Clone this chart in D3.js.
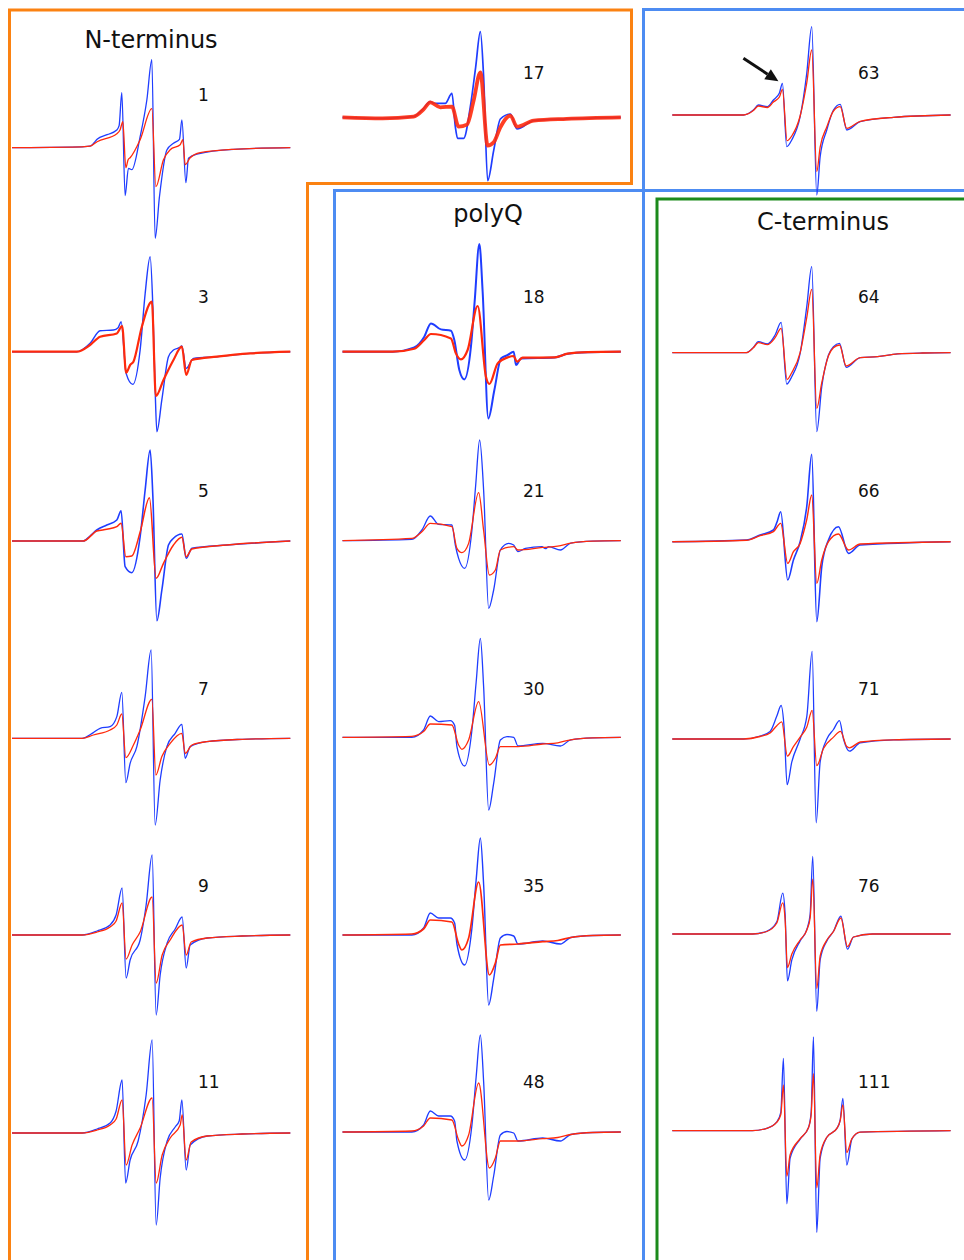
<!DOCTYPE html>
<html>
<head>
<meta charset="utf-8">
<script src="https://cdn.jsdelivr.net/npm/d3@7"></script>
<style>
  html, body { margin: 0; padding: 0; background: #fff; }
  svg { display: block; }
  text { font-family: "DejaVu Sans", "Open Sans", sans-serif; fill: #111; }
</style>
</head>
<body>
<script>
// ---------------- DATA (field offset, amplitude a.u.) ----------------
const groupTitles = ["N-terminus", "polyQ", "C-terminus"];
const residues = ["1","3","5","7","9","11","17","18","21","30","35","48","63","64","66","71","76","111"];

// N-terminus
const b1 = [[0,0],[60,0.5],[78,1.5],[82,5],[85,8.4],[95,13],[104.7,17.7],[107,22],[109.7,55],[113,-48],[116.3,-20.6],[119.7,-22],[128,11],[134.7,47.7],[139.7,88],[143,-90.6],[147.3,-49],[154.7,-2.3],[161.3,4.4],[167.3,8.4],[169.7,27.7],[173.7,-35],[176.3,-10.6],[184.7,-6.3],[221.3,-1.6],[278,0]];
const r1 = [[0,0],[60,0.5],[78,1.5],[85,6],[104.7,14],[108,18],[110.7,26],[113.7,-20],[116,-12],[118,-10],[128,8],[139.7,39],[143.7,-39],[151.3,-12],[158,-2],[168,3],[170.7,8],[173,-17],[178,-10],[188,-5],[221.3,-1.6],[278,0]];
const b3 = [[0,0],[64.7,0],[78,8.4],[88,21],[101.3,21.7],[106,24],[109,30],[114,-21.7],[120.7,-32.7],[128,1.7],[133,58],[138,95],[140.7,45],[143,-38],[144.7,-80],[149.7,-48],[156.3,-5],[161.3,1.7],[167,4],[169.7,5.7],[174,-16.7],[181.3,-6.7],[204.7,-5],[238,-1.7],[278,0]];
const r3 = [[0,0],[64.7,0],[78,6.7],[88,15],[104.7,18.3],[110,25.7],[114,-21],[118,-13.3],[121.3,-10],[129.7,25],[139.7,50],[143.7,-44.3],[151.3,-28.3],[161.3,-8.3],[169.7,5],[174,-23.3],[179.7,-8.3],[204.7,-5],[238,-1.7],[278,0]];
const b5 = [[0,0],[71.3,0],[78,5],[84.7,11],[94.7,16],[104.7,21],[109,30.3],[113,-25.7],[119.7,-31.7],[128,4.3],[133,51],[138,91],[140.7,45],[144.7,-79.7],[149.7,-49],[156.3,-4],[161.3,2.7],[169.7,7],[174,-17.3],[179.7,-7.3],[214.7,-4],[278,0]];
const r5 = [[0,0],[71.3,0],[84.7,10],[94.7,11.7],[104.7,14.3],[109,17.7],[113.7,-15.7],[119.7,-15],[128,9],[137.3,43.3],[144,-37.3],[151.3,-22.3],[161.3,-4],[169.7,3.7],[174,-15.7],[179.7,-8],[214.7,-4],[278,0]];
const b7 = [[0,0],[70,0],[81.3,5.7],[88,10],[98,11.7],[104.7,21.7],[109.7,46],[113.7,-44.3],[118,-25],[124.7,-8.3],[133,41.7],[139,88.3],[143,-86.7],[148,-41.7],[154.7,-8.3],[163,5],[169.7,14],[173,-20],[178,-8.3],[194.7,-3.3],[230,-1],[278,0]];
const r7 = [[0,0],[70,0],[81.3,3.3],[98,8.3],[104.7,13.3],[109.7,24.3],[113.7,-19.3],[121.3,-6.7],[128,8.3],[139.7,39],[143.7,-36.7],[149.7,-18.3],[158,-5],[169.7,5],[173,-15],[179.7,-6.7],[194.7,-3.3],[230,-1],[278,0]];
const b9 = [[0,0],[70,0],[85,4],[98,10],[104,20],[110,47],[114,-43],[118,-25],[128,-5],[134,30],[140,80],[144,-80],[148,-40],[155,-8],[163,6],[170,18],[174,-33],[178,-10],[195,-3],[230,-1],[278,0]];
const r9 = [[0,0],[70,0],[85,3],[98,8],[104,14],[110,32],[114,-24],[120,-10],[128,3],[140,38],[144,-48],[150,-20],[158,-5],[170,10],[174,-20],[179,-7],[195,-3],[230,-1],[278,0]];
const b11 = [[0,0],[70,0],[85,4],[98,10],[104,22],[110,53],[113.5,-50],[118,-27],[126,-8],[134,38],[140,93],[144,-92],[148,-45],[155,-8],[163,6],[167,12],[169.7,33],[174,-37],[178,-12],[195,-3],[230,-1],[278,0]];
const r11 = [[0,0],[70,0],[85,3],[98,8],[104,14],[110,33],[114,-32],[120,-12],[128,5],[140,35],[144,-50],[150,-22],[158,-5],[168,8],[170,18],[174,-27],[179,-9],[195,-3],[230,-1],[278,0]];

// polyQ
const b17 = [[0,0],[40,-1],[71,0.7],[81,9],[87.7,15.7],[91,14],[102.7,14],[109.3,24],[112.7,-9.3],[115,-21],[121,-21],[127.7,10.7],[133,50],[137.7,85.7],[141,40],[145,-63.3],[151,-33.3],[157.7,-1.7],[167.7,3.3],[174.3,-11.7],[191,-3.3],[224,-1.5],[278,0]];
const r17 = [[0,0],[40,-1],[71,0.7],[81,8],[87.7,15],[97.7,10],[109.3,10.7],[116,-9.3],[124.3,-7.3],[131,16.7],[137.7,45],[145,-28.3],[151,-25],[157.7,-10],[167.7,1.7],[174.3,-9.3],[191,-3.3],[224,-1.5],[278,0]];
const b18 = [[0,0],[50,0],[71.7,4.3],[81.7,15],[88.3,28.3],[98.3,22.3],[108.3,21],[111.7,11.7],[116.7,-18.3],[121.7,-27.7],[128.3,5],[132,50],[136.7,107.7],[140,60],[145.7,-66.7],[151.7,-38.3],[158.3,-6.7],[165,-3.3],[171,0],[173.3,-13.3],[178.3,-6.7],[212,-5.7],[225,-2],[245,-0.5],[278,0]];
const r18 = [[0,0],[50,0],[71.7,3],[81.7,11.7],[88.3,17.7],[108.3,13.3],[113.3,-1.7],[118.3,-7.7],[125,1.7],[135,45.7],[143.3,-25],[146.7,-32.3],[155,-11.7],[165,-5.7],[171,-4.3],[174.3,-10],[180,-6],[212,-5.7],[225,-2],[245,-0.5],[278,0]];
const b21 = [[0,0],[69.3,1.3],[79.3,10.7],[87.7,24.7],[96,16.3],[109.3,15.7],[112.7,-4.3],[116,-17.7],[122,-27.7],[129.3,10.7],[133,55],[137,100.7],[141,50],[146,-67.7],[151,-49.3],[157.7,-9.3],[166,-2.7],[171,-4.3],[175.3,-11],[182.7,-7.7],[199.3,-6],[202.7,-8],[206,-6],[217.7,-9.3],[228,-2.5],[250,-0.5],[278,0]];
const r21 = [[0,0],[69.3,2.3],[79.3,9],[87.7,17.3],[109.3,14],[114.3,-7.7],[119.3,-12],[126,-2.7],[136,48],[141,10],[146.7,-34.3],[152.7,-29.3],[157.7,-9.3],[171,-6],[175.3,-9.3],[200,-6.7],[215,-5.5],[228,-2.5],[250,-0.5],[278,0]];
const b30 = [[0,0],[69.3,0],[81,7.3],[87.7,21.3],[96,15.7],[107.7,16.7],[112,12],[114.3,-9.3],[122,-28.7],[129.3,7.3],[133.5,55],[137.7,99],[141,50],[146,-72.7],[151,-46],[157.7,-2.7],[164.3,0.7],[171,0],[175.3,-8.7],[200,-6],[217.7,-8.7],[228,-2.5],[250,-0.5],[278,0]];
const r30 = [[0,0],[69.3,1],[81,5.7],[87.7,13.3],[109.3,12.3],[116,-7.7],[119.3,-12],[126,-2.7],[136,35.7],[146.7,-27.7],[152.7,-21],[157.7,-9.3],[175.3,-9.3],[200,-6.7],[215,-5.5],[228,-2.5],[250,-0.5],[278,0]];
const b35 = [[0,0],[69.3,0],[81,7],[87.7,22],[96,17],[107.7,17],[112,12],[114.3,-9],[122,-30],[129.3,7],[133.5,55],[137.7,97],[141,50],[146,-70],[151,-44],[157.7,-3],[164.3,0.5],[171,-1],[175.3,-9],[200,-6],[217.7,-9],[228,-2.5],[250,-0.5],[278,0]];
const r35 = [[0,0],[69.3,1],[81,6],[87.7,15],[109.3,13],[116,-9],[119.3,-15],[126,-3],[136,53],[146.7,-40],[152.7,-28],[157.7,-10],[175.3,-9],[200,-6.7],[215,-5.5],[228,-2.5],[250,-0.5],[278,0]];
const b48 = [[0,0],[69.3,0],[81,7],[87.7,21],[96,16],[107.7,16],[112,11],[114.3,-9],[122,-28],[129.3,7],[133.5,55],[137.7,97],[141,50],[146,-68],[151,-44],[157.7,-3],[164.3,0.5],[171,-1],[175.3,-9],[200,-6],[217.7,-9],[228,-2.5],[250,-0.5],[278,0]];
const r48 = [[0,0],[69.3,1],[81,6],[87.7,14],[109.3,12],[116,-8],[119.3,-14],[126,-3],[136,49],[146.7,-36],[152.7,-26],[157.7,-9],[175.3,-9],[200,-6.7],[215,-5.5],[228,-2.5],[250,-0.5],[278,0]];

// C-terminus
const b63 = [[0,0],[71,0],[81,5],[86,10],[95,8.3],[101,15],[107,22],[110,31.7],[114.3,-31.7],[119.3,-25],[127.7,-1.7],[134.3,41.7],[139.3,88.3],[144.3,-80],[147.7,-41.7],[154.3,-15],[161,5],[167.7,10.7],[174.3,-15],[187.7,-6.7],[221,-2.3],[278,0]];
const r63 = [[0,0],[71,0],[81,4.5],[86,9],[95,7.5],[101,13],[107,18],[110,25.7],[114.7,-25.7],[119.3,-21],[127.7,-1],[134.3,32],[139.3,65],[144.3,-56.7],[147.7,-32],[154.3,-12],[161,4],[167.7,8.3],[174.3,-13.3],[187.7,-6.3],[221,-2.3],[278,0]];
const b64 = [[0,0],[74,0],[81,5.3],[86,11],[95,8.7],[102.7,17.7],[108.7,30.3],[114.3,-31.3],[119.3,-24],[127.7,-0.7],[134.3,46],[139.3,86],[144.3,-79],[149.3,-34],[156,-2.3],[161,6],[167,9.3],[173.7,-14.7],[187.7,-5],[205,-4],[225,-1.2],[250,-0.3],[278,0]];
const r64 = [[0,0],[74,0],[81,5],[86,10],[95,8],[102.7,15],[108.7,24.3],[114.7,-26.7],[119.3,-20],[127.7,0],[134.3,35],[139.3,63.3],[144.3,-55.7],[149.3,-30],[156,-3],[161,5],[167,7.7],[173.7,-13.3],[187.7,-5],[205,-4],[225,-1.2],[250,-0.3],[278,0]];
const b66 = [[0,0],[74,1.7],[87.7,6.7],[101,11.7],[104.7,20],[108.3,30],[115.3,-38.3],[121,-18.3],[127.7,0],[134.3,35],[139.3,87.3],[144.3,-80],[149.3,-25],[156,1.7],[166,15],[176,-11.7],[187.7,-3.3],[278,0]];
const r66 = [[0,0],[74,1.5],[87.7,6],[101,10],[108.3,18.3],[115.3,-21.7],[121,-10],[127.7,-1.7],[134.3,22],[139.3,46.7],[144.3,-41.7],[149.3,-18.3],[156,0],[166,7.7],[176,-8.3],[187.7,-2.3],[278,0]];
const b71 = [[0,0],[71,0],[87.7,3],[97.7,7.6],[104.4,22.9],[108.7,33.5],[111.7,11.4],[114.7,-45.7],[119.4,-22.9],[127.7,0],[134.4,22.9],[139.7,87.6],[143.7,-83.8],[147.7,-22.9],[154.4,0],[161,9.5],[167,18.3],[171,0],[177,-12.2],[187.7,-3.8],[221,-0.8],[278,0]];
const r71 = [[0,0],[71,0],[87.7,2.5],[97.7,6],[104.4,13.3],[109.3,17.1],[115,-17.1],[121,-7.6],[127.7,1.9],[134.4,12],[139.7,28.6],[144.3,-26.7],[151,-9.5],[161,1.9],[168,7.6],[174.3,-7.6],[177,-8.8],[187.7,-3],[221,-0.8],[278,0]];
const b76 = [[0,0],[80,0],[94.3,2.7],[104.4,12.2],[110.3,40.8],[112.7,19.8],[115,-46.9],[119.4,-25.9],[127.7,-6.9],[134.4,4.6],[137.7,19.8],[140.3,77.7],[144.3,-77.3],[147.7,-25.9],[154.4,-6.9],[161,2.7],[168.4,17.9],[175,-15.2],[181,-3],[200,0],[278,0]];
const r76 = [[0,0],[80,0],[94.3,2.5],[104.4,11],[110.3,31.2],[112.7,14],[115,-33.5],[119.4,-20],[127.7,-6],[134.4,4],[137.7,16],[140.3,54.9],[144.3,-54.5],[147.7,-22],[154.4,-6],[161,2.5],[168.4,16],[175,-12.6],[181,-3],[200,0],[278,0]];
const b111 = [[0,0],[80,0],[94.3,2.3],[104.4,8.8],[108.4,18.3],[111,72.4],[114.4,-73.1],[117.7,-27.4],[127.7,-8.4],[136,3],[138.7,18.3],[141,93.7],[144.3,-101.7],[147.7,-27.4],[154.4,-6.5],[164.4,2.3],[167.7,10.7],[170.4,32.4],[174.3,-34.3],[179.4,-8.4],[187.7,-1.5],[278,0]];
const r111 = [[0,0],[80,0],[94.3,2.3],[104.4,8.5],[108.4,16],[111,45.7],[114.4,-45.7],[117.7,-24],[127.7,-8],[136,3],[138.7,16],[141,57.1],[144.3,-57.1],[147.7,-24],[154.4,-6.5],[164.4,2.3],[167.7,10],[170.4,25.9],[174.3,-21.7],[179.4,-8],[187.7,-1.5],[278,0]];

const blueSeries = [b1,b3,b5,b7,b9,b11,b17,b18,b21,b30,b35,b48,b63,b64,b66,b71,b76,b111];
const redSeries  = [r1,r3,r5,r7,r9,r11,r17,r18,r21,r30,r35,r48,r63,r64,r66,r71,r76,r111];

// ---------------- LAYOUT ----------------
const W = 964, H = 1260;
const colLeft = [12, 342.5, 672.3];
const colLabelX = [198, 523, 858];
const panelCol = [0,0,0,0,0,0, 1,1,1,1,1,1, 2,2,2,2,2,2];
const panelBase = [147.7,351.7,541,738.3,935,1133, 117.3,351.7,540.7,737.3,935,1132, 115,352.7,541.7,739,934,1130.7];
const labelBase = [101,303,497,695,892,1088, 79,303,497,695,892,1088, 79,303,497,695,892,1088];
const noisy = {"3":[1.4,2.2],"5":[1.6,1.5],"17":[1.7,3.8],"18":[2.0,2.2],"35":[1.4,1.7],"66":[1.6,1.4]};

const BLUE = "#1f3dff", RED = "#ff2a0c";
const ORANGE = "#fb8212", BOXBLUE = "#4d8cf2", GREEN = "#1b8a1b";

const svg = d3.select("body").append("svg").attr("width", W).attr("height", H);

// group boxes
const boxes = svg.append("g").attr("fill", "none").attr("stroke-width", 3);
boxes.append("path").attr("stroke", ORANGE)
  .attr("d", "M9.5,1270 L9.5,10 L631.5,10 L631.5,183.5 L307.5,183.5 L307.5,1270");
boxes.append("path").attr("stroke", BOXBLUE)
  .attr("d", "M334.5,1270 L334.5,190.5 L970,190.5 M643.5,1270 L643.5,9.5 L970,9.5");
boxes.append("path").attr("stroke", GREEN)
  .attr("d", "M657,1270 L657,199 L970,199");

// spectra
const x0 = d3.scaleLinear().domain([0, 278]);
residues.forEach((lab, i) => {
  const c = panelCol[i];
  const x = x0.copy().range([colLeft[c], colLeft[c] + 278.3]);
  const y = d3.scaleLinear().domain([-100, 100]).range([panelBase[i] + 100, panelBase[i] - 100]);
  const line = d3.line().x(d => x(d[0])).y(d => y(d[1])).curve(d3.curveMonotoneX);
  const w = noisy[lab] || [1.3, 1.3];
  const g = svg.append("g").attr("fill", "none").attr("stroke-linejoin", "round");
  g.append("path").datum(blueSeries[i]).attr("d", line).attr("stroke", BLUE).attr("stroke-width", w[0]);
  g.append("path").datum(redSeries[i]).attr("d", line).attr("stroke", RED).attr("stroke-width", w[1])
    .attr("stroke-opacity", lab === "17" ? 0.9 : 1);
  svg.append("text").attr("x", colLabelX[c]).attr("y", labelBase[i])
    .attr("font-size", 17).text(lab);

  if (lab === "63") {
    // arrow pointing at the low-field shoulder peak
    const pk = b63[7];
    const tx = x(pk[0]) - 4, ty = y(pk[1]) - 2;
    const ang = Math.atan2(23, 35);
    const sx = tx - 35, sy = ty - 23;
    const hl = 13, hw = 6;
    const bx = tx - hl * Math.cos(ang), by = ty - hl * Math.sin(ang);
    svg.append("line").attr("x1", sx).attr("y1", sy).attr("x2", bx).attr("y2", by)
      .attr("stroke", "#111").attr("stroke-width", 3);
    svg.append("path").attr("fill", "#111")
      .attr("d", `M${tx},${ty} L${bx + hw*Math.sin(ang)},${by - hw*Math.cos(ang)} L${bx - hw*Math.sin(ang)},${by + hw*Math.cos(ang)} Z`);
  }
});

// titles
const titlePos = [[151, 48], [488, 222], [823, 230]];
groupTitles.forEach((t, i) => {
  svg.append("text").attr("x", titlePos[i][0]).attr("y", titlePos[i][1])
    .attr("text-anchor", "middle").attr("font-size", 24).text(t);
});
</script>
</body>
</html>
